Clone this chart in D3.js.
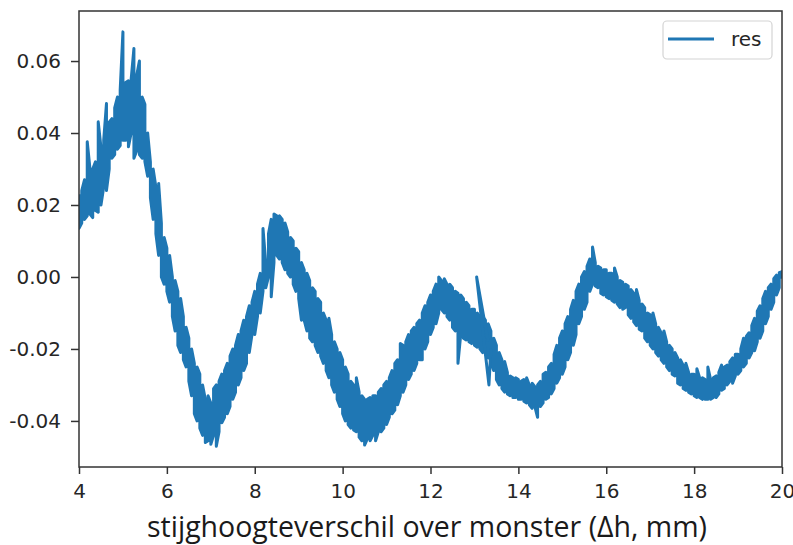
<!DOCTYPE html>
<html>
<head>
<meta charset="utf-8">
<script src="https://cdn.jsdelivr.net/npm/d3@7"></script>
<style>
  html, body { margin: 0; padding: 0; background: #fff; }
  svg { display: block; }
</style>
</head>
<body>
<svg id="chart" width="793" height="545"></svg>
<script>
// Head difference over the sample (mm), one entry per logging step
const dh = [
  4.0000, 4.0625, 4.1250, 4.1875, 4.2500, 4.3125, 4.3750, 4.4375,
  4.5000, 4.5625, 4.6250, 4.6875, 4.7500, 4.8125, 4.8750, 4.9375,
  5.0000, 5.0625, 5.1250, 5.1875, 5.2500, 5.3125, 5.3750, 5.4375,
  5.5000, 5.5625, 5.6250, 5.6875, 5.7500, 5.8125, 5.8750, 5.9375,
  6.0000, 6.0625, 6.1250, 6.1875, 6.2500, 6.3125, 6.3750, 6.4375,
  6.5000, 6.5625, 6.6250, 6.6875, 6.7500, 6.8125, 6.8750, 6.9375,
  7.0000, 7.0625, 7.1250, 7.1875, 7.2500, 7.3125, 7.3750, 7.4375,
  7.5000, 7.5625, 7.6250, 7.6875, 7.7500, 7.8125, 7.8750, 7.9375,
  8.0000, 8.0625, 8.1250, 8.1875, 8.2500, 8.3125, 8.3750, 8.4375,
  8.5000, 8.5625, 8.6250, 8.6875, 8.7500, 8.8125, 8.8750, 8.9375,
  9.0000, 9.0625, 9.1250, 9.1875, 9.2500, 9.3125, 9.3750, 9.4375,
  9.5000, 9.5625, 9.6250, 9.6875, 9.7500, 9.8125, 9.8750, 9.9375,
  10.0000, 10.0625, 10.1250, 10.1875, 10.2500, 10.3125, 10.3750, 10.4375,
  10.5000, 10.5625, 10.6250, 10.6875, 10.7500, 10.8125, 10.8750, 10.9375,
  11.0000, 11.0625, 11.1250, 11.1875, 11.2500, 11.3125, 11.3750, 11.4375,
  11.5000, 11.5625, 11.6250, 11.6875, 11.7500, 11.8125, 11.8750, 11.9375,
  12.0000, 12.0625, 12.1250, 12.1875, 12.2500, 12.3125, 12.3750, 12.4375,
  12.5000, 12.5625, 12.6250, 12.6875, 12.7500, 12.8125, 12.8750, 12.9375,
  13.0000, 13.0625, 13.1250, 13.1875, 13.2500, 13.3125, 13.3750, 13.4375,
  13.5000, 13.5625, 13.6250, 13.6875, 13.7500, 13.8125, 13.8750, 13.9375,
  14.0000, 14.0625, 14.1250, 14.1875, 14.2500, 14.3125, 14.3750, 14.4375,
  14.5000, 14.5625, 14.6250, 14.6875, 14.7500, 14.8125, 14.8750, 14.9375,
  15.0000, 15.0625, 15.1250, 15.1875, 15.2500, 15.3125, 15.3750, 15.4375,
  15.5000, 15.5625, 15.6250, 15.6875, 15.7500, 15.8125, 15.8750, 15.9375,
  16.0000, 16.0625, 16.1250, 16.1875, 16.2500, 16.3125, 16.3750, 16.4375,
  16.5000, 16.5625, 16.6250, 16.6875, 16.7500, 16.8125, 16.8750, 16.9375,
  17.0000, 17.0625, 17.1250, 17.1875, 17.2500, 17.3125, 17.3750, 17.4375,
  17.5000, 17.5625, 17.6250, 17.6875, 17.7500, 17.8125, 17.8750, 17.9375,
  18.0000, 18.0625, 18.1250, 18.1875, 18.2500, 18.3125, 18.3750, 18.4375,
  18.5000, 18.5625, 18.6250, 18.6875, 18.7500, 18.8125, 18.8750, 18.9375,
  19.0000, 19.0625, 19.1250, 19.1875, 19.2500, 19.3125, 19.3750, 19.4375,
  19.5000, 19.5625, 19.6250, 19.6875, 19.7500, 19.8125, 19.8750, 19.9375,
  20.0000
];

// Highest residual logged within each step
const resMax = [
  0.0230, 0.0240, 0.0270, 0.0376, 0.0300, 0.0300, 0.0320, 0.0431,
  0.0360, 0.0380, 0.0482, 0.0430, 0.0440, 0.0470, 0.0500, 0.0520,
  0.0681, 0.0540, 0.0545, 0.0550, 0.0635, 0.0560, 0.0600, 0.0500,
  0.0480, 0.0400, 0.0320, 0.0300, 0.0250, 0.0260, 0.0150, 0.0110,
  0.0080, 0.0060, 0.0000, -0.0010, -0.0040, -0.0060, -0.0110, -0.0140,
  -0.0170, -0.0200, -0.0240, -0.0250, -0.0270, -0.0300, -0.0340, -0.0330,
  -0.0350, -0.0310, -0.0300, -0.0290, -0.0270, -0.0260, -0.0240, -0.0220,
  -0.0200, -0.0190, -0.0160, -0.0150, -0.0120, -0.0110, -0.0080, -0.0070,
  -0.0040, -0.0020, 0.0010, 0.0135, 0.0040, 0.0120, 0.0160, 0.0175,
  0.0170, 0.0170, 0.0160, 0.0150, 0.0125, 0.0110, 0.0100, 0.0080,
  0.0070, 0.0040, 0.0020, 0.0010, -0.0010, -0.0030, -0.0040, -0.0060,
  -0.0070, -0.0100, -0.0120, -0.0115, -0.0160, -0.0180, -0.0200, -0.0210,
  -0.0230, -0.0250, -0.0270, -0.0290, -0.0300, -0.0280, -0.0320, -0.0330,
  -0.0340, -0.0340, -0.0335, -0.0330, -0.0330, -0.0320, -0.0310, -0.0300,
  -0.0290, -0.0280, -0.0260, -0.0240, -0.0230, -0.0185, -0.0190, -0.0180,
  -0.0160, -0.0150, -0.0140, -0.0130, -0.0120, -0.0100, -0.0080, -0.0070,
  -0.0050, -0.0040, -0.0020, 0.0000, -0.0010, -0.0005, -0.0020, -0.0020,
  -0.0030, -0.0040, -0.0045, -0.0050, -0.0060, -0.0070, -0.0080, -0.0090,
  -0.0090, -0.0100, -0.0110, -0.0110, -0.0120, -0.0130, -0.0150, -0.0170,
  -0.0190, -0.0210, -0.0230, -0.0235, -0.0265, -0.0275, -0.0280, -0.0280,
  -0.0285, -0.0290, -0.0285, -0.0280, -0.0300, -0.0295, -0.0305, -0.0300,
  -0.0290, -0.0270, -0.0265, -0.0250, -0.0240, -0.0215, -0.0190, -0.0170,
  -0.0150, -0.0130, -0.0110, -0.0090, -0.0065, -0.0040, -0.0020, 0.0000,
  0.0015, 0.0030, 0.0050, 0.0083, 0.0040, 0.0030, 0.0025, 0.0020,
  0.0020, 0.0010, 0.0010, 0.0025, 0.0000, -0.0010, -0.0015, -0.0020,
  -0.0025, -0.0035, -0.0045, -0.0035, -0.0065, -0.0075, -0.0085, -0.0100,
  -0.0105, -0.0100, -0.0130, -0.0140, -0.0155, -0.0150, -0.0180, -0.0190,
  -0.0200, -0.0210, -0.0225, -0.0230, -0.0245, -0.0240, -0.0265, -0.0270,
  -0.0270, -0.0255, -0.0280, -0.0280, -0.0285, -0.0250, -0.0285, -0.0280,
  -0.0275, -0.0265, -0.0245, -0.0250, -0.0245, -0.0235, -0.0225, -0.0215,
  -0.0215, -0.0200, -0.0170, -0.0165, -0.0155, -0.0135, -0.0115, -0.0095,
  -0.0080, -0.0060, -0.0040, -0.0030, -0.0020, -0.0005, 0.0005, 0.0012,
  0.0015
];

// Lowest residual logged within each step
const resMin = [
  0.0135, 0.0150, 0.0160, 0.0170, 0.0175, 0.0165, 0.0185, 0.0180,
  0.0200, 0.0250, 0.0240, 0.0300, 0.0330, 0.0340, 0.0355, 0.0365,
  0.0380, 0.0380, 0.0362, 0.0400, 0.0330, 0.0350, 0.0340, 0.0330,
  0.0320, 0.0280, 0.0220, 0.0160, 0.0120, 0.0060, 0.0000, -0.0020,
  -0.0040, -0.0070, -0.0110, -0.0150, -0.0190, -0.0210, -0.0230, -0.0250,
  -0.0290, -0.0330, -0.0380, -0.0400, -0.0420, -0.0440, -0.0460, -0.0455,
  -0.0465, -0.0440, -0.0470, -0.0430, -0.0405, -0.0390, -0.0380, -0.0360,
  -0.0340, -0.0320, -0.0300, -0.0280, -0.0260, -0.0240, -0.0210, -0.0160,
  -0.0160, -0.0110, -0.0100, -0.0040, -0.0030, 0.0000, -0.0055, 0.0040,
  0.0060, 0.0050, 0.0040, 0.0020, 0.0010, 0.0000, -0.0020, -0.0040,
  -0.0060, -0.0120, -0.0120, -0.0150, -0.0170, -0.0180, -0.0190, -0.0210,
  -0.0220, -0.0240, -0.0260, -0.0280, -0.0300, -0.0320, -0.0340, -0.0360,
  -0.0380, -0.0400, -0.0410, -0.0420, -0.0425, -0.0430, -0.0445, -0.0455,
  -0.0467, -0.0450, -0.0455, -0.0440, -0.0455, -0.0430, -0.0430, -0.0420,
  -0.0410, -0.0390, -0.0380, -0.0370, -0.0355, -0.0330, -0.0320, -0.0300,
  -0.0285, -0.0270, -0.0260, -0.0240, -0.0230, -0.0230, -0.0200, -0.0180,
  -0.0160, -0.0140, -0.0130, -0.0100, -0.0090, -0.0100, -0.0110, -0.0120,
  -0.0140, -0.0150, -0.0240, -0.0160, -0.0170, -0.0175, -0.0180, -0.0185,
  -0.0190, -0.0195, -0.0200, -0.0210, -0.0215, -0.0225, -0.0240, -0.0260,
  -0.0285, -0.0300, -0.0310, -0.0320, -0.0325, -0.0330, -0.0335, -0.0335,
  -0.0340, -0.0340, -0.0345, -0.0350, -0.0355, -0.0365, -0.0360, -0.0390,
  -0.0360, -0.0350, -0.0340, -0.0335, -0.0325, -0.0310, -0.0295, -0.0280,
  -0.0270, -0.0250, -0.0230, -0.0210, -0.0190, -0.0160, -0.0130, -0.0110,
  -0.0090, -0.0070, -0.0040, -0.0020, -0.0025, -0.0030, -0.0045, -0.0050,
  -0.0055, -0.0060, -0.0065, -0.0070, -0.0075, -0.0085, -0.0090, -0.0085,
  -0.0105, -0.0115, -0.0125, -0.0135, -0.0145, -0.0150, -0.0170, -0.0180,
  -0.0190, -0.0200, -0.0210, -0.0220, -0.0230, -0.0240, -0.0250, -0.0260,
  -0.0270, -0.0275, -0.0295, -0.0300, -0.0310, -0.0315, -0.0320, -0.0325,
  -0.0330, -0.0335, -0.0335, -0.0340, -0.0340, -0.0340, -0.0340, -0.0335,
  -0.0335, -0.0325, -0.0315, -0.0310, -0.0300, -0.0290, -0.0295, -0.0275,
  -0.0270, -0.0260, -0.0250, -0.0240, -0.0225, -0.0210, -0.0205, -0.0180,
  -0.0170, -0.0150, -0.0130, -0.0110, -0.0090, -0.0070, -0.0050, -0.0030,
  -0.0005
];

// A short stretch where the head difference was stepped back and re-run
const retraceDh  = [13.3125, 13.0500, 13.3300, 13.3750];
const retraceRes = [-0.0180, 0.0000, -0.0300, -0.0200];

const xTicks = [4, 6, 8, 10, 12, 14, 16, 18, 20];
const yTicks = [-0.04, -0.02, 0.00, 0.02, 0.04, 0.06];
const xLabel = "stijghoogteverschil over monster (\u0394h, mm)";
const seriesName = "res";

const svg = d3.select("#chart");
const plot = { left: 79, right: 782, top: 11, bottom: 467 };
const lineColor = "#1f77b4";
const tickFont = "'DejaVu Sans', sans-serif";
const textColor = "#262626";

const x = d3.scaleLinear().domain([4, 20]).range([plot.left, plot.right]);
const y = d3.scaleLinear().domain([-0.0528, 0.0739]).range([plot.bottom, plot.top]);

svg.append("defs").append("clipPath").attr("id", "plot-clip")
  .append("rect")
  .attr("x", plot.left).attr("y", plot.top)
  .attr("width", plot.right - plot.left).attr("height", plot.bottom - plot.top);

// Within each step the trace runs between that step's extremes,
// alternating direction so consecutive steps join up.
const trace = [];
dh.forEach((h, i) => {
  if (i % 2 === 0) {
    trace.push([h, resMax[i]], [h, resMin[i]]);
  } else {
    trace.push([h, resMin[i]], [h, resMax[i]]);
  }
});

const line = d3.line()
  .x(d => x(d[0]))
  .y(d => y(d[1]));

const traceStyle = sel => sel
  .attr("clip-path", "url(#plot-clip)")
  .attr("fill", "none")
  .attr("stroke", lineColor)
  .attr("stroke-width", 3)
  .attr("stroke-linejoin", "round")
  .attr("stroke-linecap", "butt");

svg.append("path").attr("d", line(trace)).call(traceStyle);
svg.append("path").attr("d", line(retraceDh.map((h, i) => [h, retraceRes[i]]))).call(traceStyle);

// Axes
const xAxis = svg.append("g")
  .attr("transform", `translate(0,${plot.bottom})`)
  .call(d3.axisBottom(x).tickValues(xTicks).tickFormat(d => String(d)).tickSize(7).tickSizeOuter(0));
xAxis.select(".domain").remove();
xAxis.selectAll("line").attr("stroke", "#333").attr("stroke-width", 1.5);
xAxis.selectAll("text")
  .attr("y", 31).attr("dy", 0)
  .attr("fill", textColor)
  .style("font-family", tickFont).style("font-size", "20px");

const yAxis = svg.append("g")
  .attr("transform", `translate(${plot.left},0)`)
  .call(d3.axisLeft(y).tickValues(yTicks).tickFormat(d => d.toFixed(2)).tickSize(8).tickPadding(10).tickSizeOuter(0));
yAxis.select(".domain").remove();
yAxis.selectAll("line").attr("stroke", "#333").attr("stroke-width", 1.5);
yAxis.selectAll("text")
  .attr("fill", textColor)
  .style("font-family", tickFont).style("font-size", "20px");

// Frame around the plotting area
svg.append("rect")
  .attr("x", plot.left).attr("y", plot.top)
  .attr("width", plot.right - plot.left).attr("height", plot.bottom - plot.top)
  .attr("fill", "none").attr("stroke", "#333").attr("stroke-width", 1.5);

// Axis title
const title = svg.append("text")
  .attr("x", 427).attr("y", 537)
  .attr("text-anchor", "middle")
  .attr("fill", "#1a1a1a")
  .style("font-family", "'Open Sans', sans-serif")
  .style("font-size", "22px")
  .text(xLabel);
const tw = title.node().getComputedTextLength();
if (tw > 0) title.style("font-size", (22 * 560 / tw).toFixed(2) + "px");

// Legend
const legend = svg.append("g");
legend.append("rect")
  .attr("x", 663).attr("y", 21).attr("width", 109).attr("height", 38)
  .attr("rx", 4).attr("ry", 4)
  .attr("fill", "#fff").attr("fill-opacity", 0.8)
  .attr("stroke", "#d4d4d4").attr("stroke-width", 1.2);
legend.append("line")
  .attr("x1", 668).attr("x2", 714).attr("y1", 39).attr("y2", 39)
  .attr("stroke", lineColor).attr("stroke-width", 3);
legend.append("text")
  .attr("x", 731).attr("y", 46)
  .attr("fill", textColor)
  .style("font-family", tickFont).style("font-size", "20px")
  .text(seriesName);
</script>
</body>
</html>
